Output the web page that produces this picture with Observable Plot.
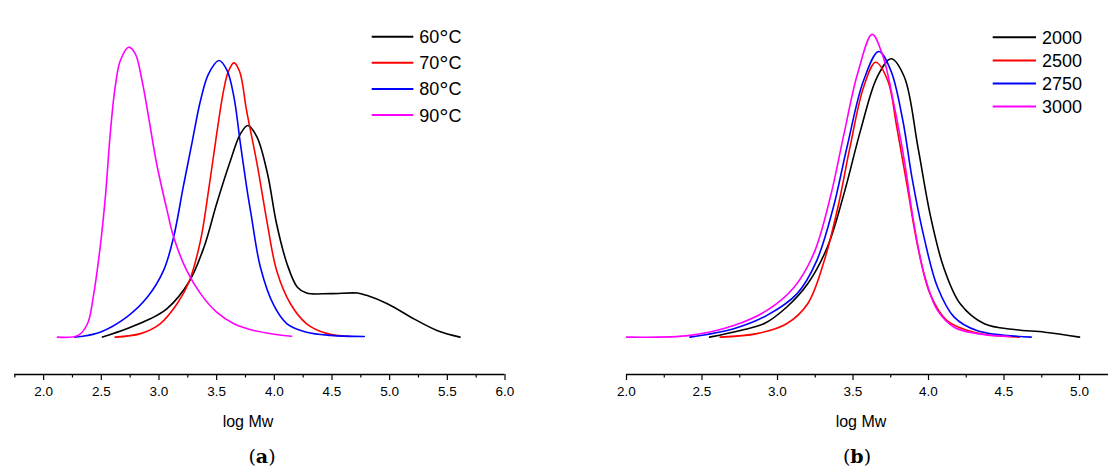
<!DOCTYPE html>
<html><head><meta charset="utf-8">
<script src="https://cdn.jsdelivr.net/npm/d3@7"></script>
<script src="https://cdn.jsdelivr.net/npm/@observablehq/plot@0.6"></script>
<style>
body{margin:0;background:#fff;}
#wrap{position:relative;width:1108px;height:468px;overflow:visible;font-family:"Liberation Sans",Arial,sans-serif;color:#000;}
.panel{position:absolute;top:0;}
.panel text{font-size:13.5px !important;fill:#000;}
.lbl{position:absolute;transform:translate(-50%,-50%);white-space:nowrap;line-height:1.1;}
.axl{font-size:16px;}
.cap{font-family:"DejaVu Serif","Liberation Serif",serif;font-size:19px;}
#legend{position:absolute;left:0;top:0;pointer-events:none;}
</style></head><body><div id="wrap"></div>
<script>
// ---------- Data ----------
const seriesA = ["60°C", "70°C", "80°C", "90°C"];
const seriesB = ["2000", "2500", "2750", "3000"];
const colors = ["#000000", "#ff0000", "#0000ff", "#ff00ff"];

const ticksA = [2.0, 2.5, 3.0, 3.5, 4.0, 4.5, 5.0, 5.5, 6.0];
const minorA = [1.75, 2.25, 2.75, 3.25, 3.75, 4.25, 4.75, 5.25, 5.75];
const ticksB = [2.0, 2.5, 3.0, 3.5, 4.0, 4.5, 5.0];
const minorB = [2.25, 2.75, 3.25, 3.75, 4.25, 4.75];

// Panel (a): log Mw and normalized signal
const a60x = [2.51,2.72,2.925,3.07,3.26,3.39,3.50,3.62,3.705,3.77,3.85,3.94,4.02,4.11,4.20,4.28,4.49,4.72,4.80,4.98,5.21,5.41,5.61];
const a60y = [0,0.029,0.063,0.098,0.19,0.31,0.46,0.609,0.70,0.73,0.69,0.565,0.39,0.253,0.172,0.152,0.15,0.152,0.144,0.115,0.063,0.023,0];
const a70x = [2.62,2.84,3.01,3.157,3.26,3.36,3.43,3.50,3.56,3.60,3.65,3.70,3.76,3.85,3.94,4.02,4.14,4.28,4.46,4.66];
const a70y = [0,0.012,0.046,0.115,0.19,0.333,0.506,0.70,0.85,0.915,0.946,0.915,0.78,0.598,0.39,0.23,0.115,0.046,0.012,0.002];
const a80x = [2.27,2.32,2.49,2.72,2.90,3.04,3.127,3.21,3.29,3.36,3.43,3.52,3.59,3.65,3.705,3.76,3.80,3.88,3.995,4.11,4.28,4.49,4.78];
const a80y = [0,0.002,0.017,0.069,0.138,0.23,0.345,0.517,0.678,0.816,0.908,0.954,0.92,0.828,0.67,0.517,0.42,0.24,0.11,0.046,0.017,0.006,0.002];
const a90x = [2.12,2.30,2.38,2.43,2.49,2.535,2.58,2.62,2.665,2.737,2.795,2.853,2.91,2.98,3.07,3.127,3.24,3.36,3.50,3.65,3.82,4.0,4.15];
const a90y = [0,0.006,0.046,0.138,0.31,0.483,0.713,0.862,0.954,1.0,0.977,0.885,0.759,0.598,0.437,0.345,0.23,0.15,0.086,0.046,0.023,0.01,0.003];

// Panel (b)
const b2000x = [2.55,2.755,2.91,3.06,3.20,3.33,3.44,3.55,3.66,3.753,3.84,3.93,4.01,4.10,4.21,4.37,4.57,4.77,5.0];
const b2000y = [0,0.023,0.046,0.103,0.184,0.31,0.494,0.713,0.897,0.96,0.897,0.655,0.425,0.241,0.115,0.046,0.026,0.017,0];
const b2500x = [2.62,2.865,3.06,3.20,3.31,3.40,3.48,3.57,3.65,3.73,3.79,3.86,3.93,4.01,4.12,4.30,4.60];
const b2500y = [0,0.012,0.046,0.115,0.264,0.448,0.655,0.862,0.948,0.885,0.724,0.517,0.31,0.15,0.058,0.017,0];
const b2750x = [2.42,2.71,2.93,3.13,3.26,3.37,3.46,3.57,3.67,3.75,3.83,3.89,3.97,4.06,4.17,4.32,4.68];
const b2750y = [0,0.029,0.075,0.15,0.264,0.448,0.655,0.885,0.985,0.92,0.747,0.552,0.345,0.172,0.069,0.023,0];
const b3000x = [2.0,2.42,2.71,2.93,3.11,3.24,3.35,3.44,3.53,3.627,3.70,3.77,3.84,3.90,3.97,4.06,4.17,4.32,4.54];
const b3000y = [0,0.006,0.04,0.092,0.172,0.288,0.483,0.70,0.908,1.044,0.966,0.805,0.609,0.402,0.219,0.092,0.034,0.012,0.002];

// ---------- Build rows ----------
function rows(names, xs, ys) {
  const out = [];
  names.forEach((s, i) => xs[i].forEach((x, j) => out.push({s, x, y: ys[i][j]})));
  return out;
}
const rowsA = rows(seriesA, [a60x, a70x, a80x, a90x], [a60y, a70y, a80y, a90y]);
const rowsB = rows(seriesB, [b2000x, b2500x, b2750x, b3000x], [b2000y, b2500y, b2750y, b3000y]);

const yDomain = [-0.129, 1.161];
const FONT = '"Liberation Sans", Arial, sans-serif';

function panel(data, names, xDomain, ticks, minor, width, ml, mr) {
  return Plot.plot({
    width, height: 468,
    marginLeft: ml, marginRight: mr, marginTop: 0, marginBottom: 94,
    x: {domain: xDomain},
    y: {domain: yDomain, axis: null},
    color: {domain: names, range: colors},
    style: {fontFamily: FONT, fontSize: "14px", color: "#000", background: "transparent", overflow: "visible"},
    marks: [
      Plot.ruleY([yDomain[0]], {stroke: "#000", strokeWidth: 1.3}),
      Plot.axisX({ticks: minor, tickSize: 3.5, tickFormat: () => "", label: null, strokeWidth: 1.2}),
      Plot.axisX({ticks, tickSize: 6, tickPadding: 6, tickFormat: d3.format(".1f"), label: null, strokeWidth: 1.2}),
      Plot.line(data, {x: "x", y: "y", z: "s", stroke: "s", strokeWidth: 1.6, curve: "catmull-rom"})
    ]
  });
}

const wrap = document.getElementById("wrap");
const pa = panel(rowsA, seriesA, [1.75, 6.0], ticksA, minorA, 540, 14.3, 35.5);
pa.classList.add("panel"); pa.style.left = "0px";
wrap.appendChild(pa);
const pb = panel(rowsB, seriesB, [2.0, 5.192], ticksB, minorB, 548, 66, 0);
pb.classList.add("panel"); pb.style.left = "560px";
wrap.appendChild(pb);

// Axis titles and captions
function label(cls, html, x, y) {
  const d = document.createElement("div");
  d.className = "lbl " + cls; d.innerHTML = html;
  d.style.left = x + "px"; d.style.top = y + "px";
  wrap.appendChild(d);
}
label("axl", "log Mw", 248, 422);
label("axl", "log Mw", 861, 422);
label("cap", "(<b>a</b>)", 262, 456);
label("cap", "(<b>b</b>)", 857, 456);

// Legends
const svg = d3.select(wrap).append("svg").attr("id", "legend").attr("width", 1108).attr("height", 468)
  .style("font-family", FONT);
function legend(names, x0, x1, y0, dy, fs) {
  names.forEach((n, i) => {
    const y = y0 + i * dy;
    svg.append("line").attr("x1", x0).attr("x2", x1).attr("y1", y).attr("y2", y)
      .attr("stroke", colors[i]).attr("stroke-width", 2);
    const t = svg.append("text").attr("x", x1 + 6).attr("y", y + 6.5)
      .attr("font-size", fs).attr("fill", "#000");
    const k = n.indexOf("°");
    if (k < 0) { t.text(n); return; }
    t.append("tspan").text(n.slice(0, k));
    t.append("tspan").attr("font-size", 23).attr("dy", 3).text("°");
    t.append("tspan").attr("font-size", fs).attr("dy", -3).text(n.slice(k + 1));
  });
}
legend(seriesA, 371.7, 413.3, 36.7, 26.1, 18);
legend(seriesB, 992.7, 1036, 37.3, 23.1, 18);
</script></body></html>
